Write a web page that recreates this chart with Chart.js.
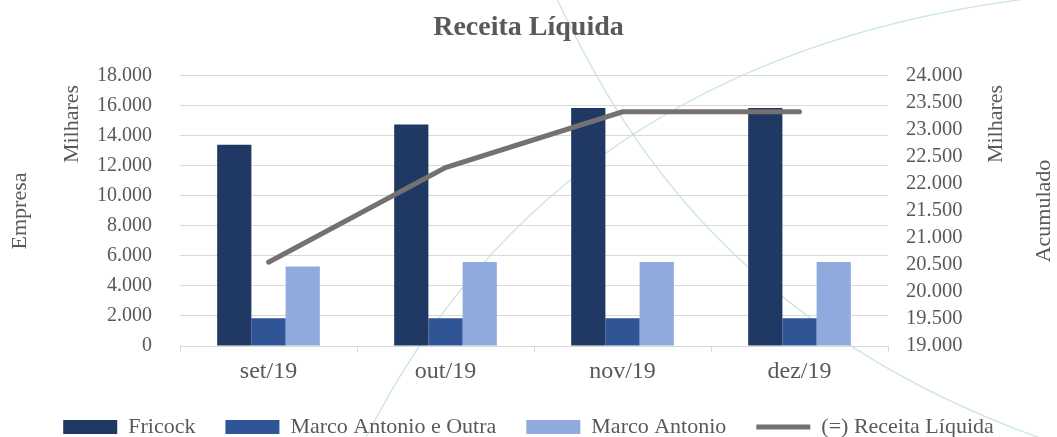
<!DOCTYPE html>
<html>
<head>
<meta charset="utf-8">
<script src="https://cdn.jsdelivr.net/npm/chart.js@4"></script>
<style>
  html, body { margin: 0; padding: 0; background: #fff; }
</style>
</head>
<body>
<canvas id="chart" width="1057" height="437"></canvas>
<script>
// categorias e valores (em R$ mil)
const months = ['set/19', 'out/19', 'nov/19', 'dez/19'];
const fricock = [13400, 14750, 15850, 15850];
const marcoOutra = [1850, 1850, 1850, 1850];
const marcoAntonio = [5300, 5600, 5600, 5600];
const receitaAcum = [20550, 22300, 23330, 23330];

const serif = "'Liberation Serif', 'Times New Roman', serif";
const textColor = '#595959';
const gridColor = '#d9d9d9';

function fmt(v)
{
    return String(v).replace(/\B(?=(\d{3})+(?!\d))/g, '.');
}

// marca d'agua: curvas claras ao fundo
const watermark = {
    id: 'watermark',
    beforeDraw(chart)
    {
        const ctx = chart.ctx;
        ctx.save();
        ctx.fillStyle = '#fff';
        ctx.fillRect(0, 0, chart.width, chart.height);
        ctx.strokeStyle = 'rgba(160, 208, 202, 0.55)';
        ctx.lineWidth = 1.3;
        ctx.beginPath();
        ctx.moveTo(555, -5);
        ctx.bezierCurveTo(610, 110, 720, 330, 1060, 445);
        ctx.stroke();
        ctx.beginPath();
        ctx.moveTo(355, 460);
        ctx.bezierCurveTo(440, 280, 620, 40, 1060, -5);
        ctx.stroke();
        ctx.restore();
    }
};

// titulos dos eixos (Empresa / Acumulado / Milhares)
const axisTitles = {
    id: 'axisTitles',
    afterDraw(chart)
    {
        const ctx = chart.ctx;
        const items = [
            ['Empresa', 20, 211],
            ['Milhares', 72, 124],
            ['Milhares', 996, 124],
            ['Acumulado', 1044, 211]
        ];
        ctx.save();
        ctx.fillStyle = textColor;
        ctx.font = '22px ' + serif;
        ctx.textAlign = 'center';
        ctx.textBaseline = 'middle';
        for (const [t, x, y] of items)
        {
            ctx.save();
            ctx.translate(x, y);
            ctx.rotate(-Math.PI / 2);
            ctx.fillText(t, 0, 0);
            ctx.restore();
        }
        ctx.restore();
    }
};

// altura fixa da legenda
const legendHeight = {
    id: 'legendHeight',
    beforeInit(chart)
    {
        const legend = chart.legend;
        const fit = legend.fit;
        legend.fit = function () {
            fit.call(this);
            this.height = 51;
        };
    }
};

new Chart(document.getElementById('chart'), {
    type: 'bar',
    data: {
        labels: months,
        datasets: [
            {
                label: 'Fricock',
                data: fricock,
                backgroundColor: '#203864',
                yAxisID: 'y',
                order: 1
            },
            {
                label: 'Marco Antonio e Outra',
                data: marcoOutra,
                backgroundColor: '#2f5597',
                yAxisID: 'y',
                order: 1
            },
            {
                label: 'Marco Antonio',
                data: marcoAntonio,
                backgroundColor: '#8faadc',
                yAxisID: 'y',
                order: 1
            },
            {
                type: 'line',
                label: '(=) Receita Líquida',
                data: receitaAcum,
                borderColor: '#767171',
                backgroundColor: '#767171',
                borderWidth: 5,
                borderCapStyle: 'round',
                pointRadius: 0,
                tension: 0,
                yAxisID: 'y1',
                order: 0
            }
        ]
    },
    options: {
        responsive: false,
        animation: false,
        datasets: {
            bar: {
                categoryPercentage: 0.58,
                barPercentage: 1
            }
        },
        layout: { padding: 0 },
        scales: {
            x: {
                grid: {
                    drawOnChartArea: false,
                    drawTicks: true,
                    tickLength: 6,
                    color: gridColor
                },
                border: { color: gridColor },
                ticks: {
                    color: textColor,
                    font: { family: serif, size: 24 },
                    padding: 5
                },
                afterFit(s) { s.height = 40; }
            },
            y: {
                position: 'left',
                min: 0,
                max: 18000,
                grid: {
                    color: gridColor,
                    drawTicks: false
                },
                border: { display: false },
                ticks: {
                    stepSize: 2000,
                    autoSkip: false,
                    color: textColor,
                    font: { family: serif, size: 20 },
                    padding: 28,
                    callback: (v) => fmt(v)
                },
                afterFit(s) { s.width = 180; }
            },
            y1: {
                position: 'right',
                min: 19000,
                max: 24000,
                grid: {
                    display: false,
                    drawTicks: false
                },
                border: { display: false },
                ticks: {
                    stepSize: 500,
                    autoSkip: false,
                    color: textColor,
                    font: { family: serif, size: 20.5 },
                    padding: 18,
                    callback: (v) => fmt(v)
                },
                afterFit(s) { s.width = 169; }
            }
        },
        plugins: {
            title: {
                display: true,
                text: 'Receita Líquida',
                color: textColor,
                font: { family: serif, size: 28, weight: 'bold' },
                padding: { top: 11, bottom: 31 }
            },
            legend: {
                position: 'bottom',
                labels: {
                    color: textColor,
                    font: { family: serif, size: 22 },
                    usePointStyle: true,
                    pointStyleWidth: 54,
                    boxHeight: 14,
                    padding: 30,
                    sort: (a, b) => a.datasetIndex - b.datasetIndex,
                    generateLabels(chart)
                    {
                        const items = Chart.defaults.plugins.legend.labels.generateLabels(chart);
                        for (const it of items)
                        {
                            const ds = chart.data.datasets[it.datasetIndex];
                            if (ds.type === 'line')
                            {
                                it.pointStyle = 'line';
                                it.lineWidth = 5;
                            }
                            else
                            {
                                it.pointStyle = 'rect';
                                it.lineWidth = 0;
                            }
                        }
                        return items;
                    }
                }
            },
            tooltip: { enabled: false }
        }
    },
    plugins: [watermark, axisTitles, legendHeight]
});
</script>
</body>
</html>
